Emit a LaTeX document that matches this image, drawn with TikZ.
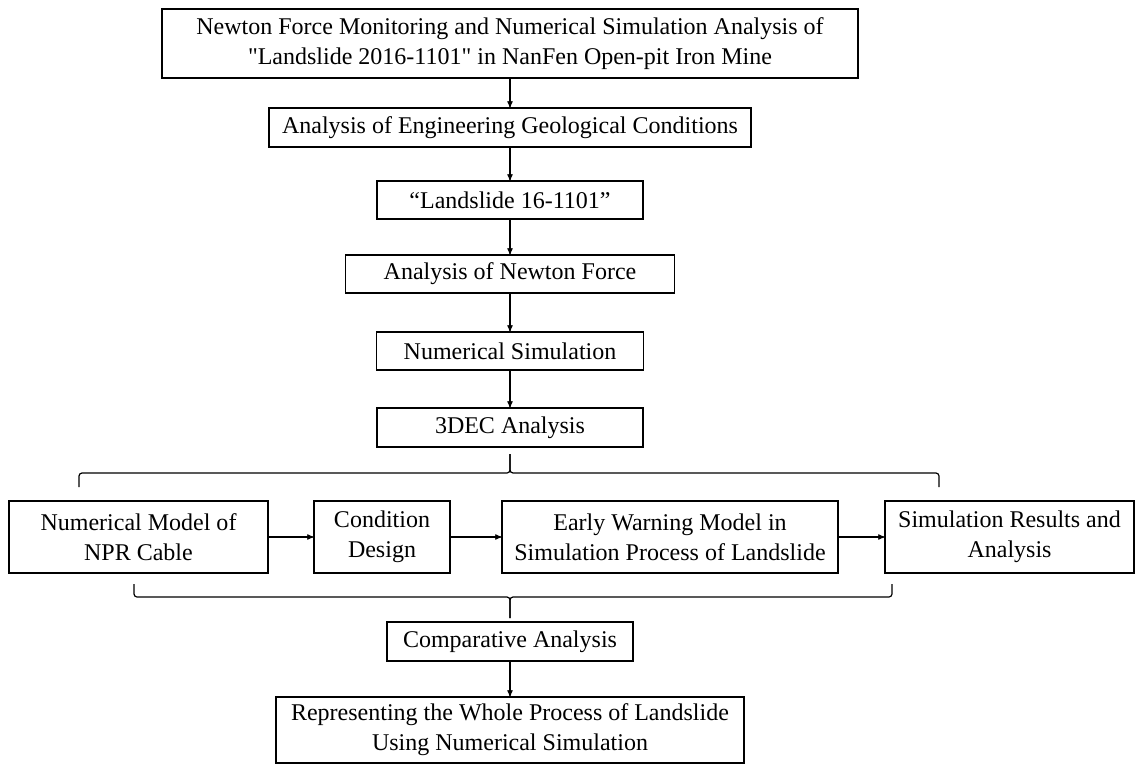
\documentclass[tikz,border=0pt]{standalone}
\usepackage{fontspec}
\setmainfont{Liberation Serif}
\usepackage{tikz}
\usetikzlibrary{positioning, arrows}
\tikzset{->,>=stealth',
node distance=3cm,
box/.style={draw,line width=1.4bp,align=center,inner sep=2bp,font=\fontsize{24bp}{30bp}\selectfont},
brace/.style={-,line width=1.2bp,rounded corners=3bp}}

\begin{document}
\begin{tikzpicture}[x=1bp,y=-1bp,line width=1.2bp]
\useasboundingbox (0,0) rectangle (1137,765);
\node[box,minimum width=696bp,minimum height=69bp] (A) at (510,43.5) {Newton Force Monitoring and Numerical Simulation Analysis of\\\textquotedbl Landslide 2016-1101\textquotedbl{} in NanFen Open-pit Iron Mine};
\node[box,node distance=84bp,below of=A,minimum width=482bp,minimum height=39bp] (B) {Analysis of Engineering Geological Conditions};
\node[box,node distance=72.5bp,below of=B,minimum width=266bp,minimum height=38bp] (C) {“Landslide 16-1101”};
\node[box,node distance=74bp,below of=C,minimum width=329bp,minimum height=38bp] (D) {Analysis of Newton Force};
\node[box,node distance=77bp,below of=D,minimum width=267bp,minimum height=38bp] (E) {Numerical Simulation};
\node[box,node distance=76.5bp,below of=E,minimum width=266bp,minimum height=39bp] (F) {3DEC Analysis};
% row of the simulation steps
\node[box,minimum width=259bp,minimum height=72bp] (G) at (138.5,537) {Numerical Model of\\NPR Cable};
\node[box,node distance=243.5bp,right of=G,minimum width=136bp,minimum height=72bp] (H) {Condition\\Design};
\node[box,node distance=288bp,right of=H,minimum width=336bp,minimum height=72bp] (I) {Early Warning Model in\\Simulation Process of Landslide};
\node[box,node distance=339.5bp,right of=I,minimum width=249bp,minimum height=72bp] (J) {Simulation Results and\\Analysis};
\node[box,node distance=214bp,below of=F,minimum width=246bp,minimum height=39bp] (K) {Comparative Analysis};
\node[box,node distance=88.5bp,below of=K,minimum width=468bp,minimum height=66bp] (L) {Representing the Whole Process of Landslide\\Using Numerical Simulation};
% braces
\coordinate (t) at (510,454);
\coordinate (tm) at (510,473);
\coordinate (tl) at (79,487);
\coordinate (tr) at (939,487);
\coordinate (b) at (510,618);
\coordinate (bm) at (510,597);
\coordinate (bl) at (134,584);
\coordinate (br) at (892,584);
\draw
(A) edge (B)
(B) edge (C)
(C) edge (D)
(D) edge (E)
(E) edge (F)
(G) edge (H)
(H) edge (I)
(I) edge (J)
(K) edge (L)
;
\draw[brace] (tl) |- (tm) -- (t);
\draw[brace] (tr) |- (tm) -- (t);
\draw[brace] (bl) |- (bm) -- (b);
\draw[brace] (br) |- (bm) -- (b);
\end{tikzpicture}
\end{document}
